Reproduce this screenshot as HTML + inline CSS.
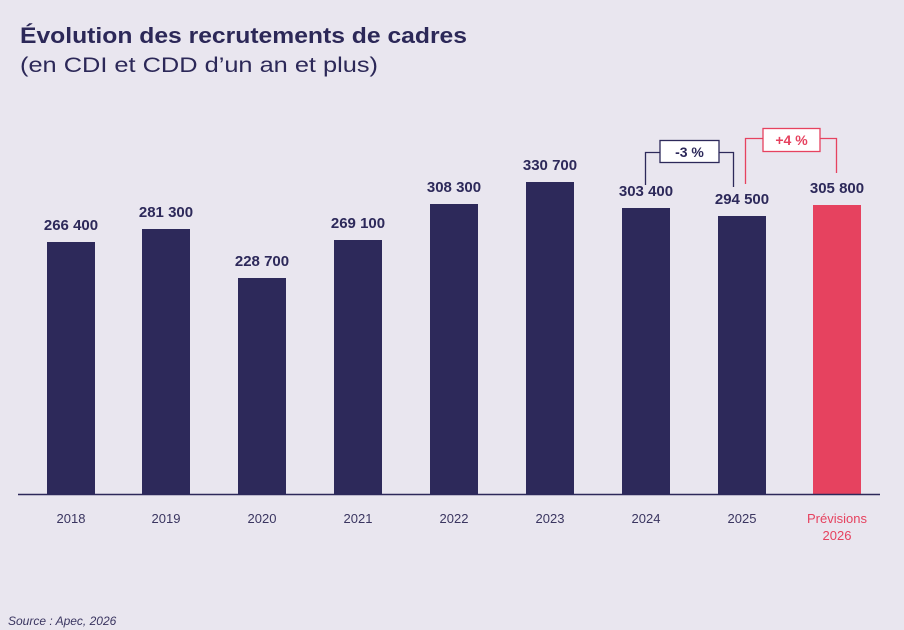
<!DOCTYPE html>
<html><head><style>
body{margin:0;width:904px;height:630px;background:#e9e6ef;font-family:"Liberation Sans",sans-serif;overflow:hidden;position:relative}
</style></head><body>
<svg width="904" height="630" style="position:absolute;left:0;top:0" font-family="Liberation Sans, sans-serif">
<text x="20" y="43" font-size="22" font-weight="bold" fill="#2c2858" textLength="447" lengthAdjust="spacingAndGlyphs">Évolution des recrutements de cadres</text>
<text x="20" y="72" font-size="21" fill="#2c2858" textLength="358" lengthAdjust="spacingAndGlyphs">(en CDI et CDD d’un an et plus)</text>
<g fill="#2d295a">
<rect x="47" y="242" width="48" height="252"/>
<rect x="142" y="229" width="48" height="265"/>
<rect x="238" y="278" width="48" height="216"/>
<rect x="334" y="240" width="48" height="254"/>
<rect x="430" y="204" width="48" height="290"/>
<rect x="526" y="182" width="48" height="312"/>
<rect x="622" y="208" width="48" height="286"/>
<rect x="718" y="216" width="48" height="278"/>
</g>
<rect x="813" y="205" width="48" height="289" fill="#e6425f"/>
<line x1="18" y1="494.5" x2="880" y2="494.5" stroke="#2d295a" stroke-width="1.5"/>
<g font-size="15" font-weight="bold" fill="#2d295a" text-anchor="middle">
<text x="71" y="230">266 400</text>
<text x="166" y="217">281 300</text>
<text x="262" y="266">228 700</text>
<text x="358" y="228">269 100</text>
<text x="454" y="192">308 300</text>
<text x="550" y="170">330 700</text>
<text x="646" y="196">303 400</text>
<text x="742" y="204">294 500</text>
<text x="837" y="193">305 800</text>
</g>
<g font-size="13" fill="#3a3560" text-anchor="middle">
<text x="71" y="523">2018</text><text x="166" y="523">2019</text><text x="262" y="523">2020</text>
<text x="358" y="523">2021</text><text x="454" y="523">2022</text><text x="550" y="523">2023</text>
<text x="646" y="523">2024</text><text x="742" y="523">2025</text>
</g>
<g font-size="13" fill="#e6425f" text-anchor="middle"><text x="837" y="523">Prévisions</text><text x="837" y="540">2026</text></g>
<polyline points="645.5,185 645.5,152.5 660,152.5" fill="none" stroke="#2d295a" stroke-width="1.3"/>
<polyline points="719,152.5 733.5,152.5 733.5,187" fill="none" stroke="#2d295a" stroke-width="1.3"/>
<rect x="660" y="140.5" width="59" height="22" fill="#fff" stroke="#2d295a" stroke-width="1.3"/>
<text x="689.5" y="157" font-size="14" font-weight="bold" fill="#2d295a" text-anchor="middle">-3 %</text>
<polyline points="745.5,184 745.5,138.5 763,138.5" fill="none" stroke="#e6425f" stroke-width="1.3"/>
<polyline points="820,138.5 836.5,138.5 836.5,173" fill="none" stroke="#e6425f" stroke-width="1.3"/>
<rect x="763" y="128.5" width="57" height="23" fill="#fff" stroke="#e6425f" stroke-width="1.3"/>
<text x="791.5" y="145" font-size="14" font-weight="bold" fill="#e6425f" text-anchor="middle">+4 %</text>
<text x="8" y="625" font-size="12" font-style="italic" fill="#3a3560">Source : Apec, 2026</text>
</svg>
</body></html>
